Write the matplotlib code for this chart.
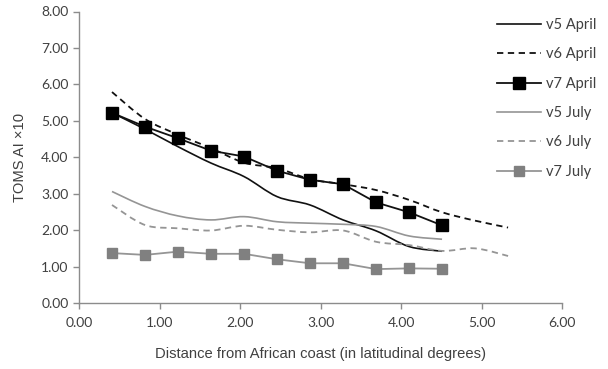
import numpy as np
import matplotlib
matplotlib.use("Agg")
import matplotlib.pyplot as plt
from matplotlib.path import Path
from matplotlib.patches import PathPatch
from matplotlib.lines import Line2D

# distance from coast (latitudinal degrees)
x = [0.41, 0.82, 1.23, 1.64, 2.05, 2.46, 2.87, 3.28, 3.69, 4.10, 4.51, 4.92, 5.33]

v5_april = [5.22, 4.77, 4.29, 3.84, 3.47, 2.92, 2.69, 2.28, 1.98, 1.55, 1.42]
v6_april = [5.79, 5.05, 4.62, 4.25, 3.85, 3.70, 3.40, 3.26, 3.10, 2.83, 2.49, 2.26, 2.07]
v7_april = [5.22, 4.84, 4.52, 4.18, 4.02, 3.63, 3.38, 3.26, 2.76, 2.49, 2.13]
v5_july = [3.06, 2.65, 2.39, 2.28, 2.37, 2.23, 2.19, 2.16, 2.10, 1.84, 1.75]
v6_july = [2.69, 2.14, 2.05, 1.99, 2.12, 2.01, 1.94, 1.99, 1.68, 1.59, 1.43, 1.50, 1.29]
v7_july = [1.37, 1.32, 1.41, 1.35, 1.35, 1.20, 1.09, 1.09, 0.93, 0.95, 0.94]

BLACK = "#111111"
GRAY_LINE = "#959595"
GRAY_MARK = "#808080"
TXT = "#404040"


def smooth_path(xs, ys):
    # Excel-like smoothed line: cubic bezier segments through the points
    p = np.column_stack([xs, ys])
    n = len(p)
    verts = [p[0]]
    codes = [Path.MOVETO]
    for i in range(n - 1):
        p0 = p[i - 1] if i > 0 else p[i]
        p3 = p[i + 2] if i + 2 < n else p[i + 1]
        c1 = p[i] + (p[i + 1] - p0) / 6.0
        c2 = p[i + 1] - (p3 - p[i]) / 6.0
        verts += [c1, c2, p[i + 1]]
        codes += [Path.CURVE4] * 3
    return Path(verts, codes)


fig = plt.figure(figsize=(6.08, 3.69), dpi=100)
ax = fig.add_axes([79 / 608, 1 - 303 / 369, 483 / 608, 291.5 / 369])

dash = (0, (3.5, 2.5))
ax.add_patch(PathPatch(smooth_path(x[:len(v5_april)], v5_april), fill=False,
                       edgecolor=BLACK, lw=1.2))
ax.add_patch(PathPatch(smooth_path(x[:len(v6_april)], v6_april), fill=False,
                       edgecolor=BLACK, lw=1.3, linestyle=dash))
ax.plot(x[:len(v7_april)], v7_april, color=BLACK, lw=1.3, marker="s",
        markersize=8, markerfacecolor="black", markeredgecolor="black")
ax.add_patch(PathPatch(smooth_path(x[:len(v5_july)], v5_july), fill=False,
                       edgecolor=GRAY_LINE, lw=1.2))
ax.add_patch(PathPatch(smooth_path(x[:len(v6_july)], v6_july), fill=False,
                       edgecolor=GRAY_LINE, lw=1.3, linestyle=dash))
ax.plot(x[:len(v7_july)], v7_july, color=GRAY_LINE, lw=1.3, marker="s",
        markersize=7, markerfacecolor=GRAY_MARK, markeredgecolor=GRAY_MARK)

ax.set_xlim(0, 6)
ax.set_ylim(0, 8)
ax.set_xticks(np.arange(0, 7, 1))
ax.set_yticks(np.arange(0, 9, 1))
ax.set_xticklabels(["%.2f" % v for v in range(7)])
ax.set_yticklabels(["%.2f" % v for v in range(9)])
for s in ["top", "right"]:
    ax.spines[s].set_visible(False)
for s in ["left", "bottom"]:
    ax.spines[s].set_color("#8c8c8c")
    ax.spines[s].set_linewidth(1.0)
ax.tick_params(colors="#8c8c8c", labelcolor=TXT, length=4, width=1.0)
ax.tick_params(axis="x", pad=6)
for lab in ax.get_xticklabels() + ax.get_yticklabels():
    lab.set_family("Lato")
    lab.set_fontsize(10)

ax.set_xlabel("Distance from African coast (in latitudinal degrees)",
              family="Liberation Sans", fontsize=10.6, color=TXT, labelpad=13)
ax.set_ylabel("TOMS AI \u00d710", family="Liberation Sans", fontsize=10.6,
              color=TXT, labelpad=10)

handles = [
    Line2D([], [], color=BLACK, lw=1.2),
    Line2D([], [], color=BLACK, lw=1.3, linestyle=dash),
    Line2D([], [], color=BLACK, lw=1.3, marker="s", markersize=8,
           markerfacecolor="black", markeredgecolor="black"),
    Line2D([], [], color=GRAY_LINE, lw=1.2),
    Line2D([], [], color=GRAY_LINE, lw=1.3, linestyle=dash),
    Line2D([], [], color=GRAY_LINE, lw=1.3, marker="s", markersize=7,
           markerfacecolor=GRAY_MARK, markeredgecolor=GRAY_MARK),
]
labels = ["v5 April", "v6 April", "v7 April", "v5 July", "v6 July", "v7 July"]
leg = fig.legend(handles, labels, loc="upper left",
                 bbox_to_anchor=(484 / 608, 1 - 5 / 369), frameon=False,
                 handlelength=3.0, handletextpad=0.35, labelspacing=1.05,
                 prop={"family": "Lato", "size": 10.5})
for t in leg.get_texts():
    t.set_color(TXT)

fig.savefig("out.png", dpi=100)
